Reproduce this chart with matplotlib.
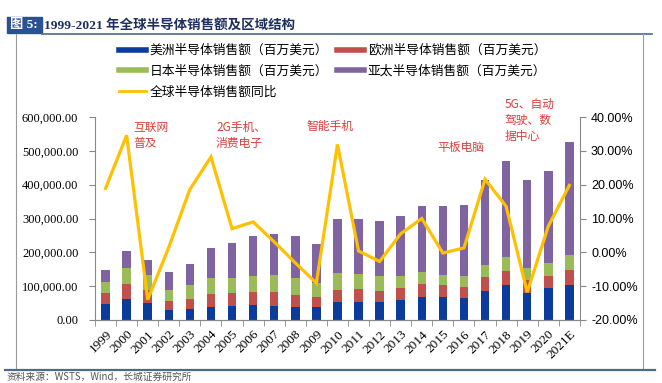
import numpy as np
import matplotlib.pyplot as plt
from matplotlib.lines import Line2D
from matplotlib.ticker import FuncFormatter, FixedLocator

plt.rcParams['font.family'] = ['Noto Sans CJK SC', 'DejaVu Sans']

years = ["1999", "2000", "2001", "2002", "2003", "2004", "2005", "2006", "2007",
         "2008", "2009", "2010", "2011", "2012", "2013", "2014", "2015", "2016",
         "2017", "2018", "2019", "2020", "2021E"]

# 百万美元
americas = [47000, 63000, 49000, 31000, 32000, 37000, 40000, 44000, 41000, 37000, 38000,
            54000, 54000, 53000, 59000, 69000, 67000, 65000, 87000, 102000, 79000, 94000, 102000]
europe = [32000, 42000, 40000, 26000, 31000, 40000, 39000, 40000, 41000, 37000, 29000,
          36000, 37000, 34000, 36000, 37000, 35000, 34000, 39000, 42000, 38000, 37000, 46000]
japan = [33000, 48000, 45000, 32000, 41000, 48000, 46000, 46000, 50000, 51000, 42000,
         49000, 45000, 42000, 34000, 35000, 31000, 32000, 38000, 41000, 37000, 38000, 44000]
asia = [37000, 51000, 42000, 52000, 62000, 88000, 102000, 117000, 123000, 122000, 117000,
        159000, 164000, 163000, 177000, 195000, 203000, 208000, 249000, 285000, 259000, 272000, 335000]
# 同比 %
yoy = [18.9, 34.6, -14.0, 1.5, 18.6, 28.2, 7.0, 9.0, 3.1, -3.1, -9.1,
       31.9, 0.4, -2.7, 5.5, 10.0, -0.2, 1.3, 21.6, 13.6, -11.8, 7.7, 19.8]

notes = ["互联网\n普及", "2G手机、\n消费电子", "智能手机", "平板电脑", "5G、自动\n驾驶、数\n据中心"]
note_x = [1.3, 5.24, 9.55, 15.76, 18.94]
note_y = [588000, 588000, 591000, 529000, 656000]

c_am, c_eu, c_jp, c_as, c_line = "#0b3b9c", "#c0504d", "#9bbb59", "#8064a2", "#ffc000"
red_txt = "#d6403c"

fig = plt.figure(figsize=(6.62, 3.83), dpi=100)
ax = fig.add_axes([0.1435, 0.1645, 0.7325, 0.53])
ax2 = ax.twinx()

x = np.arange(len(years))
w = 0.4
b1 = np.array(americas)
b2 = b1 + np.array(europe)
b3 = b2 + np.array(japan)
ax.bar(x, americas, w, color=c_am, zorder=2)
ax.bar(x, europe, w, bottom=b1, color=c_eu, zorder=2)
ax.bar(x, japan, w, bottom=b2, color=c_jp, zorder=2)
ax.bar(x, asia, w, bottom=b3, color=c_as, zorder=2)
ax2.plot(x, yoy, color=c_line, lw=2.3, solid_joinstyle='miter')

ax.set_xlim(-0.5, len(years) - 0.5)
ax.set_ylim(0, 600000)
ax.set_yticks(np.arange(0, 600001, 100000))
ax.yaxis.set_major_formatter(FuncFormatter(lambda v, p: f"{v:,.2f}"))
ax2.set_ylim(-20, 40)
ax2.set_yticks(np.arange(-20, 41, 10))
ax2.yaxis.set_major_formatter(FuncFormatter(lambda v, p: f"{v:.2f}%"))

ax.set_xticks(x)
ax.set_xticklabels(years, rotation=45, ha='right', rotation_mode='anchor',
                   family='Liberation Serif', fontsize=9.5)
ax.tick_params(axis='x', length=0, pad=6)
ax.xaxis.set_minor_locator(FixedLocator(np.arange(-0.5, len(years), 1)))
ax.tick_params(axis='x', which='minor', length=4, color='#888888')
for lab in ax.get_yticklabels():
    lab.set_family('Liberation Serif')
    lab.set_fontsize(9)
for lab in ax2.get_yticklabels():
    lab.set_family('Liberation Sans')
    lab.set_fontsize(9)
ax.tick_params(axis='y', length=4, color='#888888', pad=8)
ax2.tick_params(axis='y', length=4, color='#888888', pad=4)

for a in (ax, ax2):
    a.spines['top'].set_visible(False)
    for s in ('left', 'right', 'bottom'):
        a.spines[s].set_color('#888888')
ax.spines['right'].set_visible(False)
ax2.spines['left'].set_visible(False)

for t, xx, yy in zip(notes, note_x, note_y):
    ax.text(xx, yy, t, color=red_txt, fontsize=8.5, ha='left', va='top', linespacing=1.3)

handles = [Line2D([], [], color=c_am, lw=4), Line2D([], [], color=c_jp, lw=4),
           Line2D([], [], color=c_line, lw=2),
           Line2D([], [], color=c_eu, lw=4), Line2D([], [], color=c_as, lw=4)]
labels = ["美洲半导体销售额（百万美元）", "日本半导体销售额（百万美元）", "全球半导体销售额同比",
          "欧洲半导体销售额（百万美元）", "亚太半导体销售额（百万美元）"]
fig.legend(handles, labels, ncol=2, loc='upper left', bbox_to_anchor=(119 / 662, 1 - 44 / 383),
           frameon=False, handlelength=2.1, handletextpad=0.3,
           columnspacing=0.7, labelspacing=0.62, borderpad=0, borderaxespad=0,
           prop={'size': 9.2})

# title bar and frame
fig.patches.append(plt.Rectangle((7 / 662, 1 - 33 / 383), 35 / 662, 16 / 383,
                                 transform=fig.transFigure, color='#2a5190'))
fig.text(10 / 662, 1 - 25 / 383, "图 5:", color='white', fontsize=9.5, weight='bold',
         va='center', family=['Liberation Serif', 'Noto Sans CJK SC'])
fig.text(44 / 662, 1 - 25 / 383, "1999-2021 年全球半导体销售额及区域结构", color='#1c2f5e',
         fontsize=9.7, weight='bold', va='center', family=['Liberation Serif', 'Noto Sans CJK SC'])
fig.add_artist(Line2D([42 / 662, 652 / 662], [1 - 33.5 / 383] * 2, color='#4b6a8c', lw=1.2))
fig.add_artist(Line2D([16 / 662] * 2, [1 - 34 / 383, 1 - 370 / 383], color='#9a9a9a', lw=0.8))
fig.add_artist(Line2D([643 / 662] * 2, [1 - 34 / 383, 1 - 370 / 383], color='#9a9a9a', lw=0.8))
fig.add_artist(Line2D([5 / 662, 655 / 662], [1 - 370 / 383] * 2, color='#4b6a8c', lw=1.6))
fig.text(7 / 662, 1 / 383, "资料来源：WSTS，Wind，长城证券研究所", color='#555555',
         fontsize=7, style='italic', va='bottom')

fig.savefig("out.png", dpi=100)
